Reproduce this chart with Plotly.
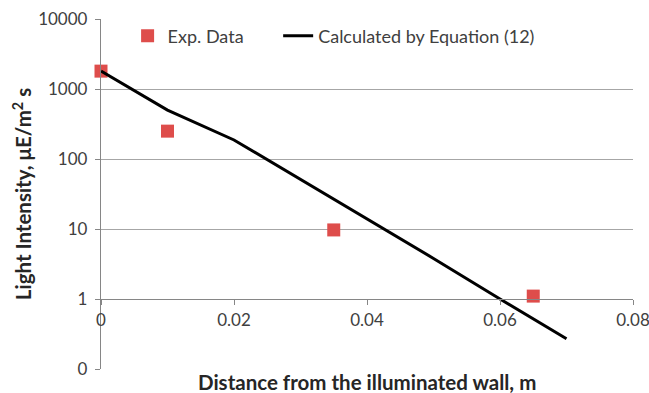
import plotly.graph_objects as go

# Measured light intensity versus distance from the illuminated wall
exp_distance = [0.0, 0.01, 0.035, 0.065]
exp_intensity = [1800, 250, 9.7, 1.1]

# Model curve from Equation (12)
calc_distance = [0.0, 0.01, 0.02, 0.03, 0.04, 0.05, 0.06, 0.07]
calc_intensity = [1800, 500, 187, 51, 14, 3.8, 1.0, 0.27]

y_tickvals = [0.1, 1, 10, 100, 1000, 10000]
y_ticktext = ["0", "1", "10", "100", "1000", "10000"]
x_tickvals = [0, 0.02, 0.04, 0.06, 0.08]
x_ticktext = ["0", "0.02", "0.04", "0.06", "0.08"]

FONT = "Lato, Carlito, Calibri, sans-serif"
GRID = "#a6a6a6"
AXIS = "#868686"
TEXT = "#404040"
TITLE = "#262626"

fig = go.Figure()
fig.add_trace(go.Scatter(
    x=exp_distance, y=exp_intensity, mode="markers", name="Exp. Data",
    marker=dict(symbol="square", size=13, color="#de4d4b",
                line=dict(width=0)),
    cliponaxis=False, legend="legend",
))
fig.add_trace(go.Scatter(
    x=calc_distance, y=calc_intensity, mode="lines",
    name="Calculated by Equation (12)",
    line=dict(color="black", width=3),
    cliponaxis=False, legend="legend2",
))

legend_common = dict(orientation="h", y=1.004, xanchor="left",
                     yanchor="top", bgcolor="rgba(0,0,0,0)",
                     font=dict(family=FONT, size=18, color=TEXT))

fig.update_layout(
    width=649, height=393,
    margin=dict(l=101, r=16, t=19, b=24, autoexpand=False),
    paper_bgcolor="white", plot_bgcolor="white",
    font=dict(family=FONT, size=18, color=TEXT),
    showlegend=True,
    legend=dict(x=0.05, **legend_common),
    legend2=dict(x=0.333, **legend_common),
    xaxis=dict(
        range=[0, 0.08], tickvals=x_tickvals, ticktext=x_ticktext,
        anchor="free", position=0.2, automargin=False,
        showgrid=False, zeroline=False,
        showline=True, linecolor=AXIS, linewidth=1.3,
        ticks="outside", ticklen=5, tickcolor=AXIS,
        ticklabeloverflow="allow",
        tickfont=dict(family=FONT, size=17, color=TEXT),
    ),
    yaxis=dict(
        type="log", range=[-1, 4], tickvals=y_tickvals, ticktext=y_ticktext,
        automargin=False,
        showgrid=True, gridcolor=GRID, gridwidth=1.3,
        showline=True, linecolor=AXIS, linewidth=1.3,
        ticks="outside", ticklen=5, tickcolor=AXIS,
        ticklabelstandoff=4,
        tickfont=dict(family=FONT, size=17, color=TEXT),
        title=dict(text="<b>Light Intensity, μE/m<sup>2</sup> s</b>",
                   font=dict(family=FONT, size=20.5, color=TITLE),
                   standoff=0),
    ),
    annotations=[dict(
        text="<b>Distance from the illuminated wall, m</b>",
        xref="paper", yref="paper", x=0.5, y=-0.037,
        xanchor="center", yanchor="middle", showarrow=False,
        font=dict(family=FONT, size=20.5, color=TITLE),
    )],
)

fig.write_html("out.html")
